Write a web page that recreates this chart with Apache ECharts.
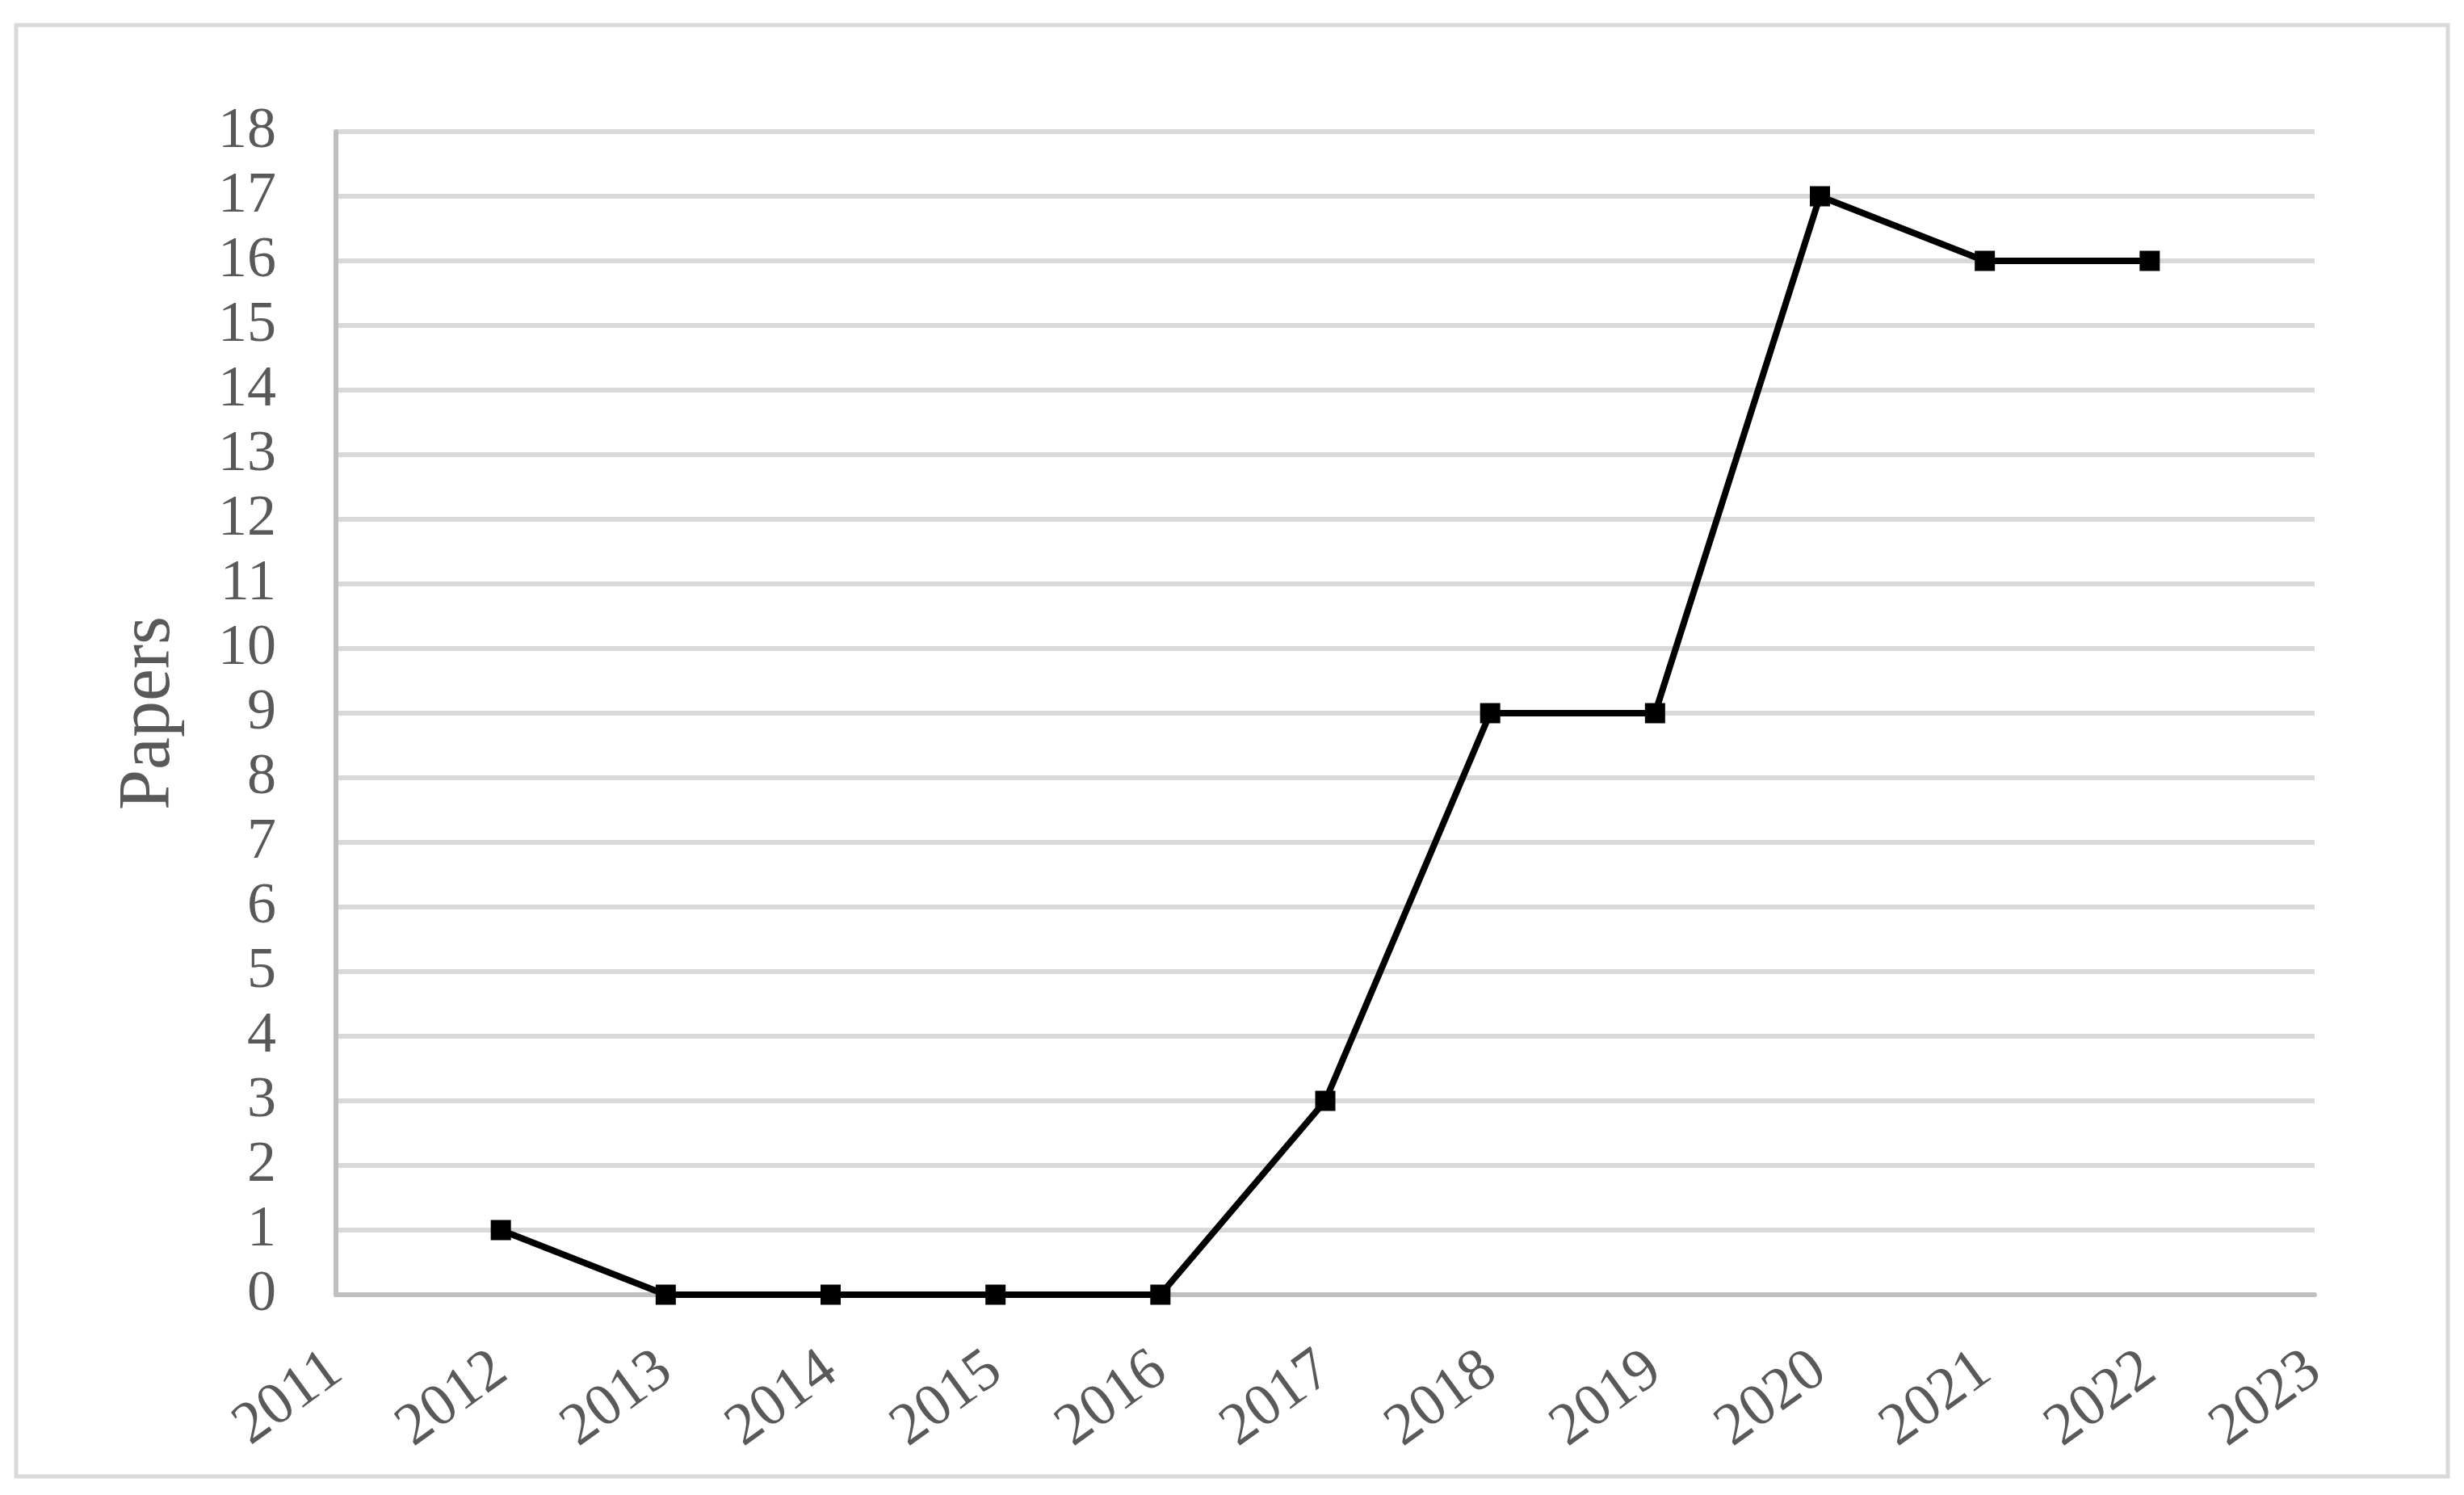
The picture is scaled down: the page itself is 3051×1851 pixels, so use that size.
<!DOCTYPE html>
<html>
<head>
<meta charset="utf-8">
<script src="https://cdn.jsdelivr.net/npm/echarts@6/dist/echarts.min.js"></script>
<style>
  html, body { margin: 0; padding: 0; background: #fff; }
  #main { width: 3051px; height: 1851px; }
</style>
</head>
<body>
<div id="main"></div>
<script>
// years on the x axis (2011 and 2023 are empty ends)
var years = ["2011", "2012", "2013", "2014", "2015", "2016", "2017", "2018", "2019", "2020", "2021", "2022", "2023"];
var papers = [null, 1, 0, 0, 0, 0, 3, 9, 9, 17, 16, 16, null];
var yMin = 0;
var yMax = 18;
var yStep = 1;

var chartDom = document.getElementById("main");
var myChart = echarts.init(chartDom);
var font = "'Liberation Serif', 'DejaVu Serif', serif";
var option = {
  animation: false,
  graphic: [
    {
      type: "rect",
      shape: { x: 20, y: 31, width: 3011, height: 1797 },
      style: { fill: "none", stroke: "#d9d9d9", lineWidth: 5 },
      silent: true,
    },
  ],
  grid: {
    left: 416,
    right: 185,
    top: 163,
    bottom: 248,
  },
  xAxis: {
    type: "category",
    data: years,
    boundaryGap: false,
    axisLine: {
      show: true,
      lineStyle: { color: "#bfbfbf", width: 6 },
    },
    axisTick: { show: false },
    splitLine: { show: false },
    axisLabel: {
      interval: 0,
      rotate: 36,
      margin: 86,
      color: "#595959",
      fontFamily: font,
      fontSize: 74,
    },
  },
  yAxis: {
    type: "value",
    min: yMin,
    max: yMax,
    interval: yStep,
    name: "Papers",
    nameLocation: "middle",
    nameGap: 186,
    nameRotate: 90,
    nameTextStyle: {
      color: "#595959",
      fontFamily: font,
      fontSize: 90,
    },
    axisLine: {
      show: true,
      lineStyle: { color: "#bfbfbf", width: 6 },
    },
    axisTick: { show: false },
    splitLine: {
      lineStyle: { color: "#d9d9d9", width: 6 },
    },
    axisLabel: {
      margin: 74,
      color: "#595959",
      fontFamily: font,
      fontSize: 72,
    },
  },
  series: [
    {
      name: "Papers",
      type: "line",
      data: papers,
      symbol: "rect",
      symbolSize: 25,
      lineStyle: { color: "#000", width: 8 },
      itemStyle: { color: "#000" },
    },
  ],
};
myChart.setOption(option);
</script>
</body>
</html>
